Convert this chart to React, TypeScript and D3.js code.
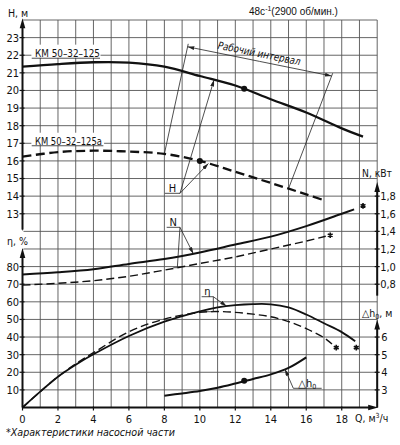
import * as d3 from 'd3';

// Q, m3/h points and curve values
const qHeadMain = [0, 2, 4, 6, 8, 10, 12, 14, 16, 18, 19.2];
const headMain = [21.35, 21.5, 21.6, 21.58, 21.35, 20.82, 20.28, 19.5, 18.75, 17.85, 17.38];
const qHeadTrim = [0, 2, 4, 6, 8, 10, 12, 14, 16, 17.1];
const headTrim = [16.24, 16.5, 16.58, 16.53, 16.4, 16.0, 15.38, 14.75, 14.1, 13.73];

const qPowMain = [0, 2, 4, 6, 8, 10, 12, 14, 16, 18, 18.7];
const powMain = [0.91, 0.935, 0.97, 1.03, 1.085, 1.16, 1.25, 1.34, 1.46, 1.6, 1.65];
const qPowTrim = [0, 2, 4, 6, 8, 10, 12, 14, 16, 17.1];
const powTrim = [0.79, 0.81, 0.84, 0.89, 0.96, 1.035, 1.11, 1.2, 1.29, 1.345];

const qEffMain = [0, 1, 2, 3, 4, 6, 8, 10, 11, 12, 13, 14, 15, 16, 17, 18, 18.76];
const effMain = [0, 9, 17.5, 24.3, 30.2, 40.6, 48.7, 54.6, 56.8, 58.1, 58.7, 58.6, 56.8, 52.8, 47.8, 42.8, 37.6];
const qEffTrim = [0, 1, 2, 3, 4, 6, 8, 10, 11, 12, 13, 14, 15, 16, 17, 17.45];
const effTrim = [0, 9, 17.5, 24.8, 31.1, 43, 50.2, 54, 54.5, 54, 53, 51.5, 48.8, 44.8, 39.6, 36];

const qNpsh = [8, 9, 10, 11, 12, 13, 14, 15, 16];
const npsh = [2.67, 2.8, 2.94, 3.12, 3.36, 3.62, 3.88, 4.25, 4.85];

// marked points and end-of-curve asterisks
const headDots = [{ q: 12.5, v: 20.1 }, { q: 10, v: 16.0 }];
const npshDots = [{ q: 12.5, v: 3.52 }];
const powStars = [{ q: 19.2, v: 1.69 }, { q: 17.35, v: 1.356 }];
const effStars = [{ q: 18.82, v: 34 }, { q: 17.69, v: 34 }];

// working interval on the trimmed impeller curve
const workRange = [8, 15];

// ticks
const qTicks = [0, 2, 4, 6, 8, 10, 12, 14, 16, 18];
const headTicks = [13, 14, 15, 16, 17, 18, 19, 20, 21, 22, 23];
const effTicks = [10, 20, 30, 40, 50, 60, 70, 80];
const powTicks = [0.8, 1.0, 1.2, 1.4, 1.6, 1.8];
const npshTicks = [3, 4, 5, 6];

const FONT = "'DejaVu Sans Condensed', 'Liberation Sans Narrow', 'Roboto Condensed', 'DejaVu Sans', sans-serif";
const INK = '#111';
const GRID = '#555';

const x = d3.scaleLinear().domain([0, 20]).range([22.5, 377.2]);
const yGrid = d3.scaleLinear().domain([0, 22]).range([407.5, 20]);
const yHead = d3.scaleLinear().domain([2, 24]).range([407.5, 20]);
const yEff = d3.scaleLinear().domain([0, 220]).range([407.5, 20]);
const yPow = d3.scaleLinear().domain([-0.6, 3.8]).range([407.5, 20]);
const yNpsh = d3.scaleLinear().domain([2, 24]).range([407.5, 20]);

const at = (qs: number[], vs: number[]) => d3.scaleLinear().domain(qs).range(vs);
const comma = d3.formatLocale({ decimal: ',', thousands: ' ', grouping: [3], currency: ['', ''] }).format('.1f');

const path = (qs: number[], vs: number[], y: d3.ScaleLinear<number, number>) =>
  d3
    .line<number>()
    .x((_, i) => x(qs[i]))
    .y((v) => y(v))
    .curve(d3.curveCatmullRom.alpha(0.5))(vs) || '';

const star = d3.symbol(d3.symbolAsterisk, 22)() || '';

const Leader = ({ x1, y1, x2, y2, arrow = true }: any) => (
  <line x1={x1} y1={y1} x2={x2} y2={y2} stroke="#222" strokeWidth={0.8} markerEnd={arrow ? 'url(#arr)' : undefined} />
);

export default function App() {
  const x0 = x(0);
  const xR = x(20);
  const yB = yGrid(0);

  // working interval bracket
  const bl = [x(9.31), yHead(22.48)];
  const br = [x(17.43), yHead(20.82)];
  const ang = (Math.atan2(br[1] - bl[1], br[0] - bl[0]) * 180) / Math.PI;
  const headTrimAt = at(qHeadTrim, headTrim);
  const headMainAt = at(qHeadMain, headMain);
  const lo = [x(workRange[0]), yHead(headTrimAt(workRange[0]))];
  const hi = [x(workRange[1]), yHead(headTrimAt(workRange[1]))];
  // extend the side lines a little past the bracket
  const ext = (p: number[], q: number[], k: number) => {
    const dx = p[0] - q[0];
    const dy = p[1] - q[1];
    const len = Math.hypot(dx, dy);
    return [p[0] + (dx / len) * k, p[1] + (dy / len) * k];
  };
  const blx = ext(bl, lo, 3);
  const brx = ext(br, hi, 3);
  const mid = [(bl[0] + br[0]) / 2, (bl[1] + br[1]) / 2];

  const powTrimAt = at(qPowTrim, powTrim)(8.73);
  const effTrimAt = at(qEffTrim, effTrim)(10.76);

  return (
    <svg
      width={400}
      height={445}
      style={{ position: 'absolute', left: 0, top: 0, background: '#fff' }}
      fontFamily={FONT}
    >
      <defs>
        <marker id="arr" viewBox="0 0 10 6" refX={10} refY={3} markerWidth={7} markerHeight={4} markerUnits="userSpaceOnUse" orient="auto">
          <path d="M0,0 L10,3 L0,6 Z" fill="#222" />
        </marker>
      </defs>
      <rect width={400} height={445} fill="#fff" />

      {/* grid */}
      <g stroke={GRID} strokeWidth={0.9}>
        {d3.range(0, 21).map((q) => (
          <line key={'v' + q} x1={x(q)} x2={x(q)} y1={yGrid(22)} y2={yB} />
        ))}
        {d3.range(0, 23).map((r) => (
          <line key={'h' + r} x1={x0} x2={xR} y1={yGrid(r)} y2={yGrid(r)} />
        ))}
      </g>

      {/* white patches behind labels */}
      <rect x={x(0.5)} y={yHead(22.6)} width={x(4.4) - x(0.5)} height={yHead(21.85) - yHead(22.6)} fill="#fff" />
      <rect x={x(0.5)} y={yHead(17.6)} width={x(4.6) - x(0.5)} height={yHead(16.88) - yHead(17.6)} fill="#fff" />
      <rect x={4} y={yHead(12.05)} width={x0 - 3} height={yEff(90) - yHead(12.05)} fill="#fff" />

      {/* curve names */}
      <text x={x(0.7)} y={yHead(21.9)} fontSize={10.5} textLength={65} lengthAdjust="spacingAndGlyphs" fill={INK}>
        КМ 50–32–125
      </text>
      <line x1={x(0.52)} x2={x(4.37)} y1={yHead(21.83)} y2={yHead(21.83)} stroke="#222" strokeWidth={0.8} />
      <text x={x(0.7)} y={yHead(16.93)} fontSize={10.5} textLength={67} lengthAdjust="spacingAndGlyphs" fill={INK}>
        КМ 50–32–125а
      </text>
      <line x1={x(0.52)} x2={x(4.56)} y1={yHead(16.86)} y2={yHead(16.86)} stroke="#222" strokeWidth={0.8} />

      {/* working interval */}
      <Leader x1={mid[0]} y1={mid[1]} x2={bl[0]} y2={bl[1]} />
      <Leader x1={mid[0]} y1={mid[1]} x2={br[0]} y2={br[1]} />
      <Leader x1={blx[0]} y1={blx[1]} x2={lo[0]} y2={lo[1]} arrow={false} />
      <Leader x1={brx[0]} y1={brx[1]} x2={hi[0]} y2={hi[1]} arrow={false} />
      <text
        transform={`translate(${mid[0] - 2},${mid[1]}) rotate(${ang})`}
        y={-4.5}
        textAnchor="middle"
        fontSize={10.5}
        fontStyle="italic"
        textLength={84}
        lengthAdjust="spacingAndGlyphs"
        fill={INK}
      >
        Рабочий интервал
      </text>

      {/* curves */}
      <g fill="none" stroke={INK} strokeLinecap="butt">
        <path d={path(qHeadMain, headMain, yHead)} strokeWidth={2.3} />
        <path d={path(qHeadTrim, headTrim, yHead)} strokeWidth={2.3} strokeDasharray="9 4.5" />
        <path d={path(qPowMain, powMain, yPow)} strokeWidth={2} />
        <path d={path(qPowTrim, powTrim, yPow)} strokeWidth={1.4} strokeDasharray="8 4" />
        <path d={path(qEffMain, effMain, yEff)} strokeWidth={1.8} />
        <path d={path(qEffTrim, effTrim, yEff)} strokeWidth={1.4} strokeDasharray="8 4" />
        <path d={path(qNpsh, npsh, yNpsh)} strokeWidth={2} />
      </g>
      {headDots.map((d, i) => (
        <circle key={'hd' + i} cx={x(d.q)} cy={yHead(d.v)} r={3} fill={INK} />
      ))}
      {npshDots.map((d, i) => (
        <circle key={'nd' + i} cx={x(d.q)} cy={yNpsh(d.v)} r={3} fill={INK} />
      ))}
      {powStars.map((d, i) => (
        <path key={'ps' + i} d={star} transform={`translate(${x(d.q)},${yPow(d.v)})`} stroke={INK} strokeWidth={1.6} />
      ))}
      {effStars.map((d, i) => (
        <path key={'es' + i} d={star} transform={`translate(${x(d.q)},${yEff(d.v)})`} stroke={INK} strokeWidth={1.6} />
      ))}

      {/* H leaders */}
      <text x={x(8.45)} y={yHead(14.24)} textAnchor="middle" fontSize={11} fill={INK}>H</text>
      <line x1={x(8.03)} x2={x(8.88)} y1={yHead(14.16)} y2={yHead(14.16)} stroke="#222" strokeWidth={0.8} />
      <Leader x1={x(8.88)} y1={yHead(14.16)} x2={x(10.8)} y2={yHead(headMainAt(10.8))} />
      <Leader x1={x(8.88)} y1={yHead(14.16)} x2={x(10.48)} y2={yHead(headTrimAt(10.48))} />

      {/* N leaders */}
      <text x={x(8.5)} y={yPow(1.46)} textAnchor="middle" fontSize={11} fill={INK}>N</text>
      <line x1={x(8.13)} x2={x(8.88)} y1={yPow(1.446)} y2={yPow(1.446)} stroke="#222" strokeWidth={0.8} />
      <Leader x1={x(8.88)} y1={yPow(1.446)} x2={x(9.63)} y2={yPow(at(qPowMain, powMain)(9.63))} />
      <Leader x1={x(8.88)} y1={yPow(1.446)} x2={x(8.73)} y2={yPow(powTrimAt)} arrow={false} />
      <line x1={x(8.73) - 4} x2={x(8.73)} y1={yPow(powTrimAt)} y2={yPow(powTrimAt)} stroke="#222" strokeWidth={0.8} />

      {/* eta leaders */}
      <text x={x(10.43)} y={yEff(63.9)} textAnchor="middle" fontSize={11} fill={INK}>η</text>
      <line x1={x(10.1)} x2={x(10.76)} y1={yEff(62.9)} y2={yEff(62.9)} stroke="#222" strokeWidth={0.8} />
      <Leader x1={x(10.76)} y1={yEff(62.9)} x2={x(11.51)} y2={yEff(at(qEffMain, effMain)(11.51))} />
      <Leader x1={x(10.76)} y1={yEff(62.9)} x2={x(10.76)} y2={yEff(effTrimAt)} arrow={false} />
      <line x1={x(10.1)} x2={x(10.76)} y1={yEff(effTrimAt)} y2={yEff(effTrimAt)} stroke="#222" strokeWidth={0.8} />

      {/* dh leader */}
      <text x={x(15.55)} y={yNpsh(3.16)} fontSize={11} fill={INK}>
        △h<tspan fontSize={7} dy={1.5}>0</tspan>
      </text>
      <line x1={x(15.27)} x2={x(16.87)} y1={yNpsh(3.09)} y2={yNpsh(3.09)} stroke="#222" strokeWidth={0.8} />
      <Leader x1={x(15.27)} y1={yNpsh(3.09)} x2={x(14.8)} y2={yNpsh(at(qNpsh, npsh)(14.8))} />

      {/* axes */}
      <g stroke={INK} strokeWidth={2}>
        <line x1={x0} x2={x0} y1={yHead(23.6)} y2={yHead(12.1)} />
        <line x1={x0} x2={x0} y1={yEff(86)} y2={yB} />
        <line x1={x0} x2={xR - 6} y1={yB} y2={yB} />
        <line x1={xR} x2={xR} y1={yPow(1.85)} y2={yPow(0.67)} />
        <line x1={xR} x2={xR} y1={yNpsh(6.6)} y2={yB} />
      </g>
      <g fill={INK}>
        <path d={`M${x0},${yHead(24.1)} l-2.8,10 h5.6 Z`} />
        <path d={`M${x0},${yEff(90.5)} l-2.8,10 h5.6 Z`} />
        <path d={`M${xR},${yPow(1.96)} l-2.8,10 h5.6 Z`} />
        <path d={`M${xR},${yNpsh(7.0)} l-2.8,10 h5.6 Z`} />
        <path d={`M${xR + 1},${yB} l-10,-2.8 v5.6 Z`} />
      </g>

      {/* ticks */}
      <g stroke={INK} strokeWidth={1.2}>
        {headTicks.map((t) => (
          <line key={'ht' + t} x1={x0 - 3} x2={x0 + 2} y1={yHead(t)} y2={yHead(t)} />
        ))}
        {effTicks.map((t) => (
          <line key={'et' + t} x1={x0 - 3} x2={x0 + 2} y1={yEff(t)} y2={yEff(t)} />
        ))}
        {powTicks.map((t) => (
          <line key={'pt' + t} x1={xR - 2.5} x2={xR + 2.5} y1={yPow(t)} y2={yPow(t)} />
        ))}
        {npshTicks.map((t) => (
          <line key={'nt' + t} x1={xR - 2.5} x2={xR + 2.5} y1={yNpsh(t)} y2={yNpsh(t)} />
        ))}
        {qTicks.map((t) => (
          <line key={'qt' + t} x1={x(t)} x2={x(t)} y1={yB - 1} y2={yB + 3} />
        ))}
      </g>
      <g fontSize={11} fill={INK}>
        {headTicks.map((t) => (
          <text key={'hl' + t} x={x0 - 3.5} y={yHead(t)} dy="0.36em" textAnchor="end">{t}</text>
        ))}
        {effTicks.map((t) => (
          <text key={'el' + t} x={x0 - 3.5} y={yEff(t)} dy="0.36em" textAnchor="end">{t}</text>
        ))}
        {powTicks.map((t) => (
          <text key={'pl' + t} x={xR + 3} y={yPow(t)} dy="0.36em">{comma(t)}</text>
        ))}
        {npshTicks.map((t) => (
          <text key={'nl' + t} x={xR + 4} y={yNpsh(t)} dy="0.36em">{t}</text>
        ))}
        {qTicks.map((t) => (
          <text key={'ql' + t} x={x(t)} y={423} textAnchor="middle">{t}</text>
        ))}
      </g>

      {/* axis titles */}
      <g fontSize={10.5} fill={INK}>
        <text x={8} y={17}>H, м</text>
        <text x={7} y={245}>η, %</text>
        <text x={362} y={177} textLength={30} lengthAdjust="spacingAndGlyphs">N, кВт</text>
        <text x={362} y={317}>
          △h<tspan fontSize={7} dy={1.5}>0</tspan>
          <tspan dy={-1.5}>, м</tspan>
        </text>
        <text x={355} y={422}>
          Q, м<tspan fontSize={7} dy={-4}>3</tspan>
          <tspan dy={4}>/ч</tspan>
        </text>
      </g>
      <text x={249} y={15} fontSize={10} fontFamily="'Liberation Sans', Arial, sans-serif" fill={INK}>
        48с<tspan fontSize={7} dy={-4}>-1</tspan>
        <tspan dy={4}>(2900 об/мин.)</tspan>
      </text>
      <text x={6} y={436} fontSize={11} fontStyle="italic" textLength={169} lengthAdjust="spacingAndGlyphs" fill={INK}>
        *Характеристики насосной части
      </text>
    </svg>
  );
}
